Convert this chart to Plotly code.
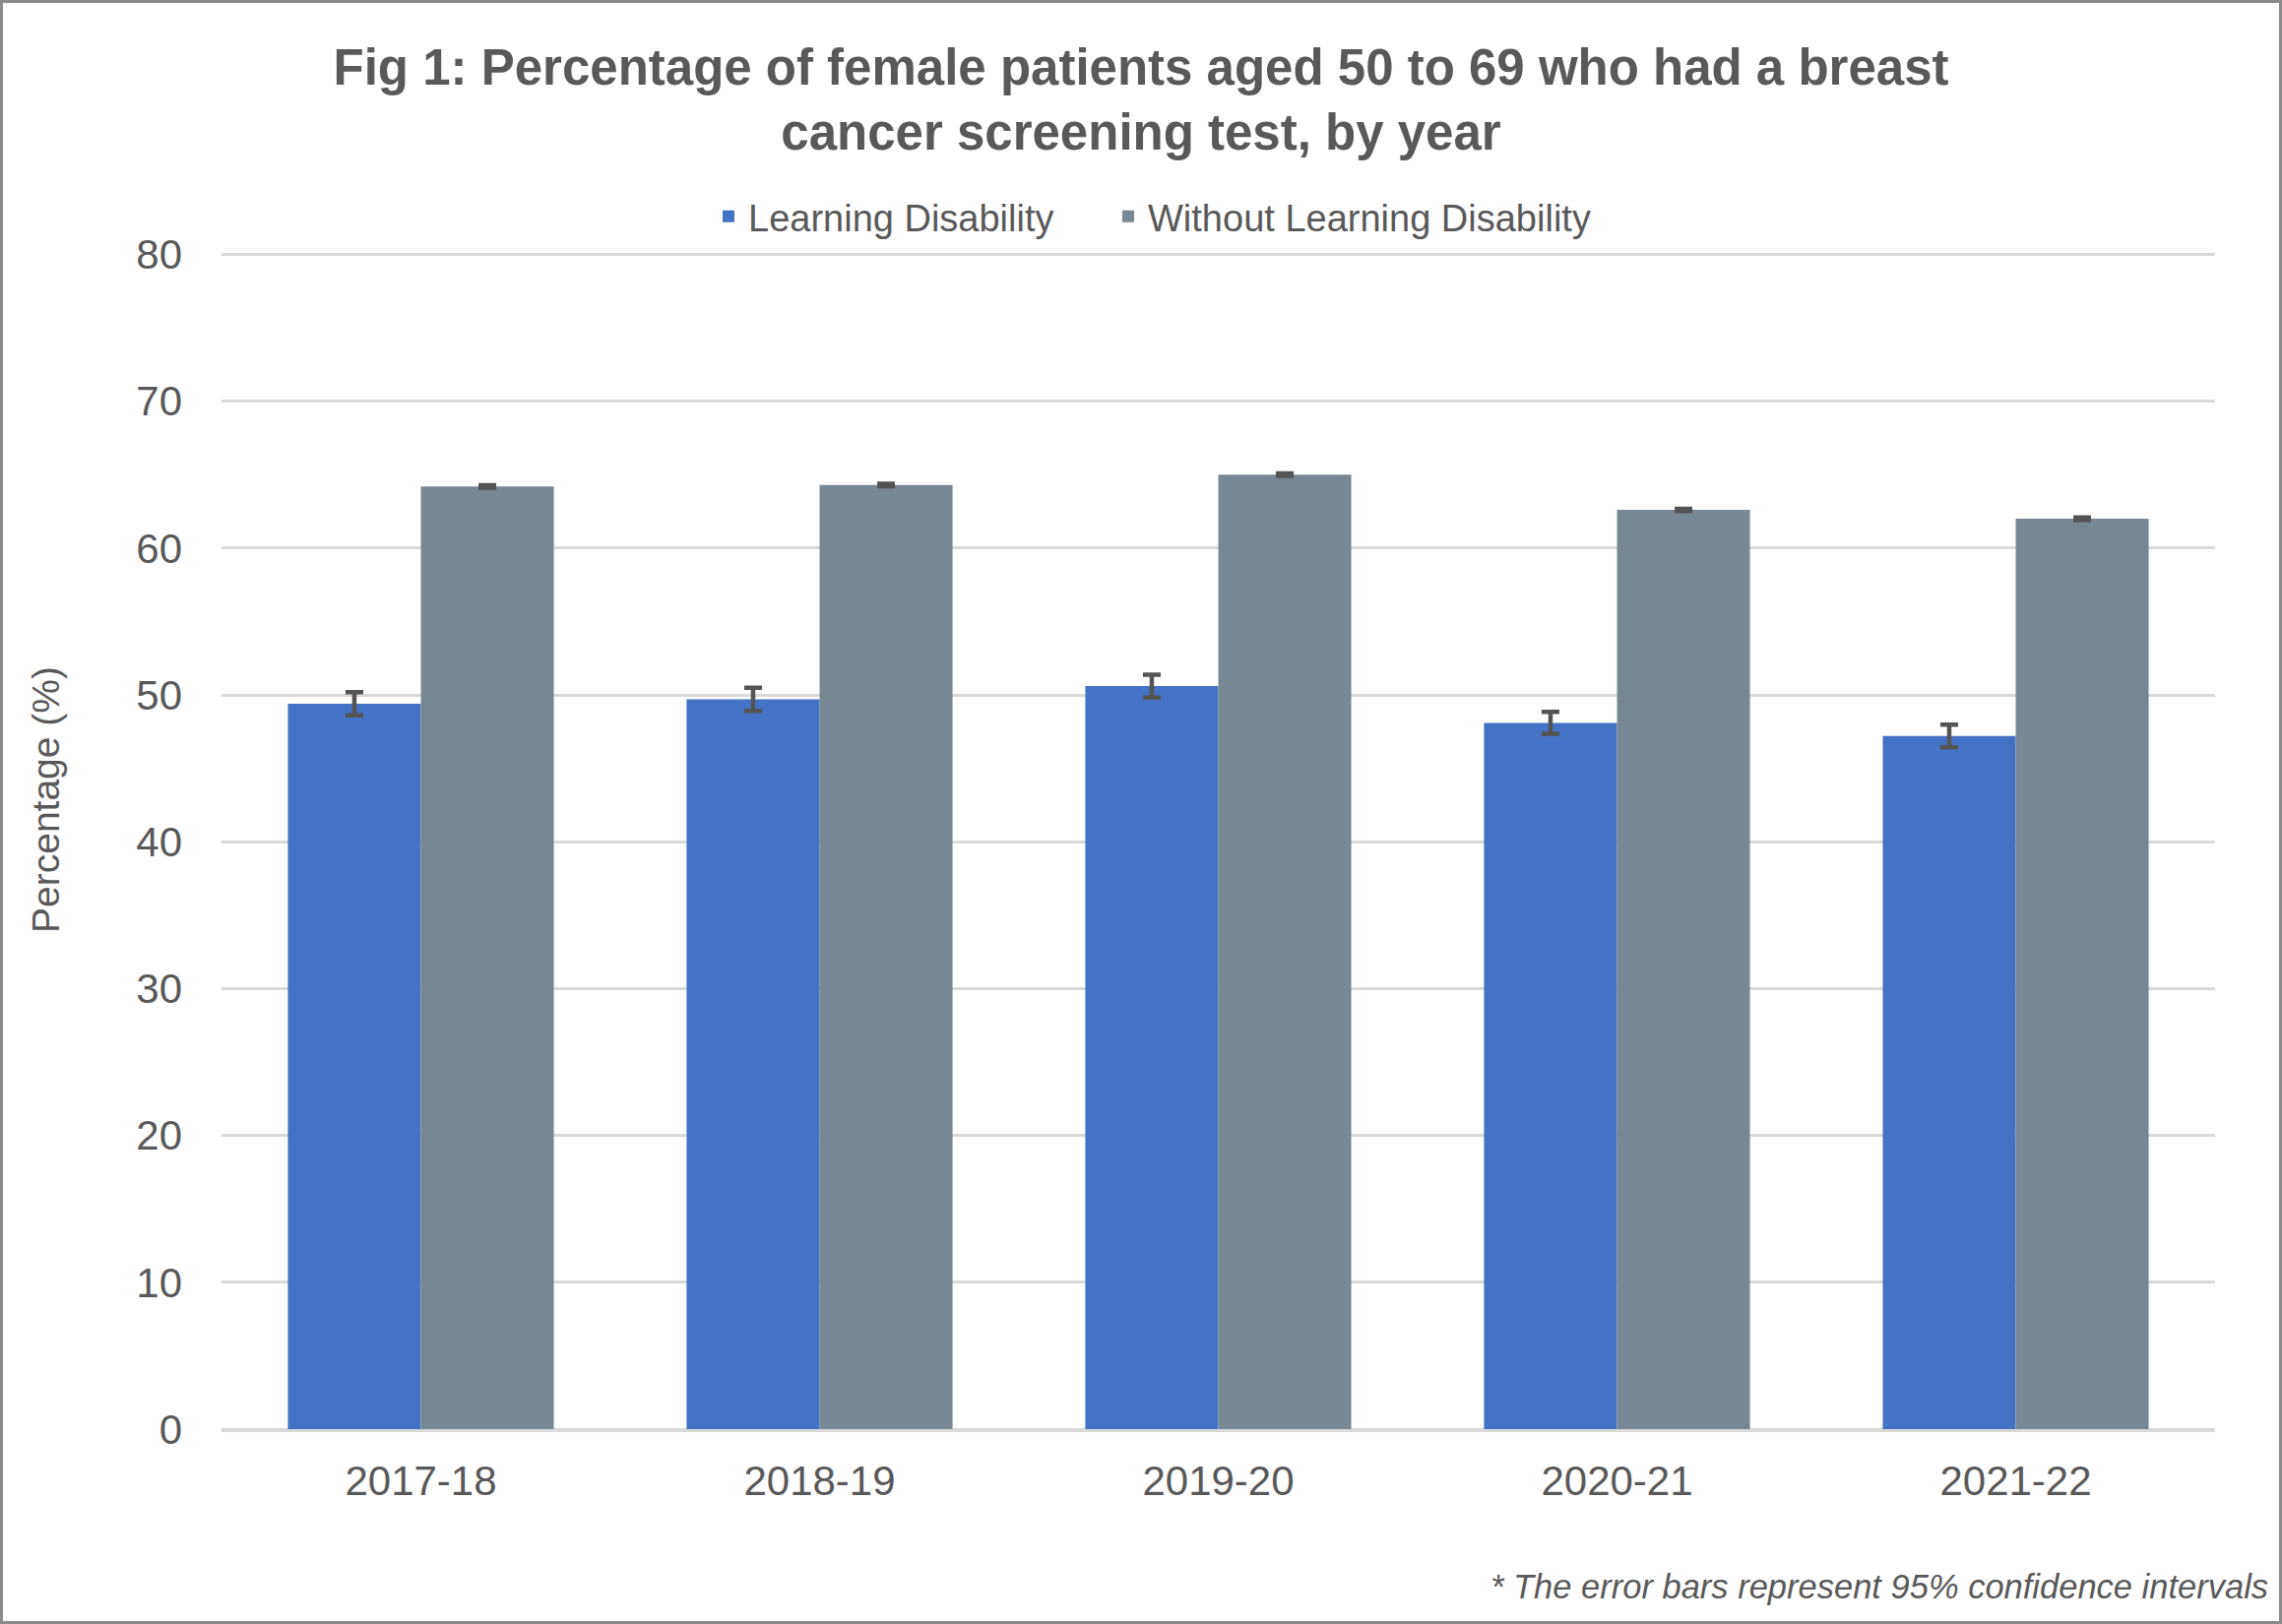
import plotly.graph_objects as go

years = ["2017-18", "2018-19", "2019-20", "2020-21", "2021-22"]
ld_values = [49.4, 49.7, 50.6, 48.1, 47.2]
ld_ci = [0.79, 0.79, 0.78, 0.75, 0.77]
wo_values = [64.2, 64.3, 65.0, 62.6, 62.0]
wo_ci = [0.08, 0.08, 0.08, 0.08, 0.08]
series_names = ["Learning Disability", "Without Learning Disability"]
y_ticks = [0, 10, 20, 30, 40, 50, 60, 70, 80]

W, H = 2318, 1650
ML, MR, MT, MB = 225, 68, 257, 198
PW, PH = W - ML - MR, H - MT - MB

FONT = "Liberation Sans, Arial, sans-serif"
TXT = "#595959"

fig = go.Figure()
fig.add_trace(go.Bar(
    x=years, y=ld_values, name=series_names[0], legend="legend",
    marker=dict(color="#4472C4", line=dict(width=0)),
    error_y=dict(type="data", array=ld_ci, visible=True, color="#545454", thickness=4.5, width=9),
))
fig.add_trace(go.Bar(
    x=years, y=wo_values, name=series_names[1], legend="legend2",
    marker=dict(color="#788794", line=dict(width=0)),
    error_y=dict(type="data", array=wo_ci, visible=True, color="#545454", thickness=4.5, width=9),
))

legend_common = dict(
    orientation="h", xref="container", xanchor="left",
    y=1 - 220 / H, yref="container", yanchor="middle",
    font=dict(size=38, color=TXT, family=FONT), bgcolor="rgba(0,0,0,0)",
)

fig.update_layout(
    width=W, height=H,
    margin=dict(l=ML, r=MR, t=MT, b=MB, autoexpand=False),
    paper_bgcolor="white", plot_bgcolor="white",
    barmode="group", bargap=0.333, bargroupgap=0,
    font=dict(family=FONT, color=TXT),
    title=dict(
        text="<b>Fig 1: Percentage of female patients aged 50 to 69 who had a breast<br>cancer screening test, by year</b>",
        x=0.5, xref="container", xanchor="center",
        y=1 - 86 / H, yref="container", yanchor="middle",
        font=dict(size=51, color=TXT, family=FONT),
    ),
    legend=dict(legend_common, x=(765 - 45) / W),
    legend2=dict(legend_common, x=(1171 - 45) / W),
    showlegend=True,
    xaxis=dict(
        showgrid=False, showline=True, linecolor="#d9d9d9", linewidth=3,
        ticks="", tickfont=dict(size=42, color=TXT, family=FONT),
        ticklabelstandoff=14,
    ),
    yaxis=dict(
        range=[0, 80.1], tickvals=y_ticks, showgrid=True, gridcolor="#d9d9d9", gridwidth=2.5,
        zeroline=True, zerolinecolor="#d9d9d9", zerolinewidth=3, showline=False,
        ticks="", tickfont=dict(size=42, color=TXT, family=FONT),
        ticklabelstandoff=39,
    ),
    annotations=[
        dict(text="Percentage (%)", textangle=-90, xref="paper", yref="paper",
             x=(47 - ML) / PW, y=(H - MB - 813) / PH, xanchor="center", yanchor="middle",
             showarrow=False, font=dict(size=39, color=TXT, family=FONT)),
        dict(text="<i>* The error bars represent 95% confidence intervals</i>", xref="paper", yref="paper",
             x=(2306 - ML) / PW, y=(H - MB - 1612) / PH, xanchor="right", yanchor="middle",
             showarrow=False, font=dict(size=34.5, color=TXT, family=FONT)),
    ],
    shapes=[
        dict(type="rect", xref="paper", yref="paper",
             x0=(1.5 - ML) / PW, x1=(W - 1.5 - ML) / PW,
             y0=-(MB - 1.5) / PH, y1=(H - MB - 1.5) / PH,
             line=dict(color="#8a8a8a", width=3), fillcolor="rgba(0,0,0,0)", layer="above"),
    ],
)

fig.write_html("out.html", config={"displayModeBar": False},
               post_script="document.body.style.margin='0px';")
